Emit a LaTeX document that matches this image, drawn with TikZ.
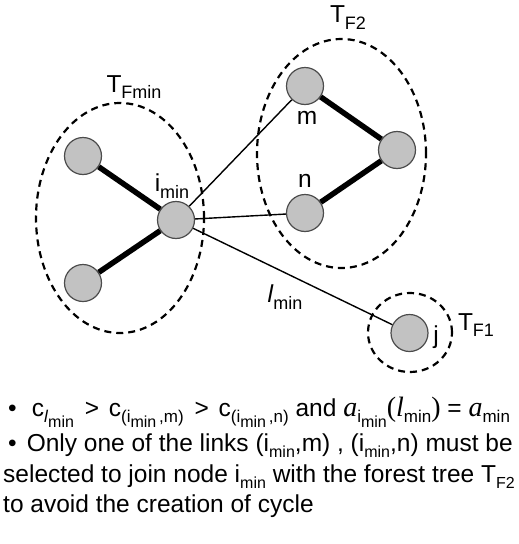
\documentclass[tikz,border=0pt]{standalone}
\usepackage{fontspec}
\setmainfont{Liberation Sans}
\newfontfamily\timesfont{Liberation Serif}
% lowered, smaller text for the subscripts
\newcommand{\dn}[2][17]{\raisebox{-0.28em}{\fontsize{#1}{#1}\selectfont #2}}
\newcommand{\ita}[1]{{\timesfont\itshape\fontsize{28}{30}\selectfont #1}}

\begin{document}
\begin{tikzpicture}[x=1pt, y=-1pt,
  every node/.style={font=\fontsize{24.5}{30}\selectfont, inner sep=0pt},
  vertex/.style={circle, draw=black!70, fill=black!24, line width=1.2pt, minimum size=37pt},
  forest/.style={line width=2.2pt, dash pattern=on 7pt off 5pt},
  treeedge/.style={line width=5.5pt},
  link/.style={line width=1.4pt}]
\useasboundingbox (0,0) rectangle (519,544);

% forest trees
\draw[forest] (120,218) ellipse[x radius=84pt, y radius=115pt];
\draw[forest] (341.5,153.5) ellipse[x radius=84.5pt, y radius=114.5pt];
\draw[forest] (410,332.5) ellipse[x radius=42pt, y radius=39.5pt];
\node (tfmin) at (134,87) {T\dn[18]{Fmin}};
\node (tf2) at (348,18) {T\dn[18]{F2}};
\node (tf1) at (476,325) {T\dn[18]{F1}};

% vertices
\node[vertex] (ta) at (83,156) {};
\node[vertex] (tb) at (83,283) {};
\node[vertex] (imin) at (176,220) {};
\node[vertex] (m) at (305,86) {};
\node[vertex] (r) at (397,150) {};
\node[vertex] (n) at (305,213) {};
\node[vertex] (j) at (409.5,333) {};

\node (lbl-imin) at (172,186) {i\dn[18]{min}};
\node (lbl-m) at (307,118) {m};
\node (lbl-n) at (305,181) {n};
\node (lbl-j) at (436,337) {j};
\node (lbl-lmin) at (285,297) {\textit{l}\dn[18]{min}};

% tree edges
\draw[treeedge] (ta) -- (imin);
\draw[treeedge] (tb) -- (imin);
\draw[treeedge] (m) -- (r);
\draw[treeedge] (r) -- (n);

% candidate links
\draw[link] (imin) -- (m);
\draw[link] (imin) -- (n);
\draw[link] (imin) -- (j);

% remarks
\node[anchor=base west] (line1) at (8,416) {\textbullet\hspace{15pt}c\dn{\textit{l}\dn[16]{min}}\hspace{4pt} {>} \hspace{3pt}c\dn{(i\dn[16]{min}\,,m)}\hspace{4pt} {>} \hspace{3pt}c\dn{(i\dn[16]{min}\,,n)} and \ita{a}\dn{i\dn[16]{min}}{\timesfont\fontsize{28}{30}\selectfont(}\ita{l}\dn{min}{\timesfont\fontsize{28}{30}\selectfont)} = \ita{a}\dn{min}};
\node[anchor=base west] (line2) at (8,451) {\textbullet\hspace{10pt}Only one of the links (i\dn[16]{min},m) , (i\dn[16]{min},n) must be};
\node[anchor=base west] (line3) at (3,482) {selected to join node i\dn[16]{min} with the forest tree T\dn[16]{F2}};
\node[anchor=base west] (line4) at (3,512) {to avoid the creation of cycle};
\end{tikzpicture}
\end{document}
